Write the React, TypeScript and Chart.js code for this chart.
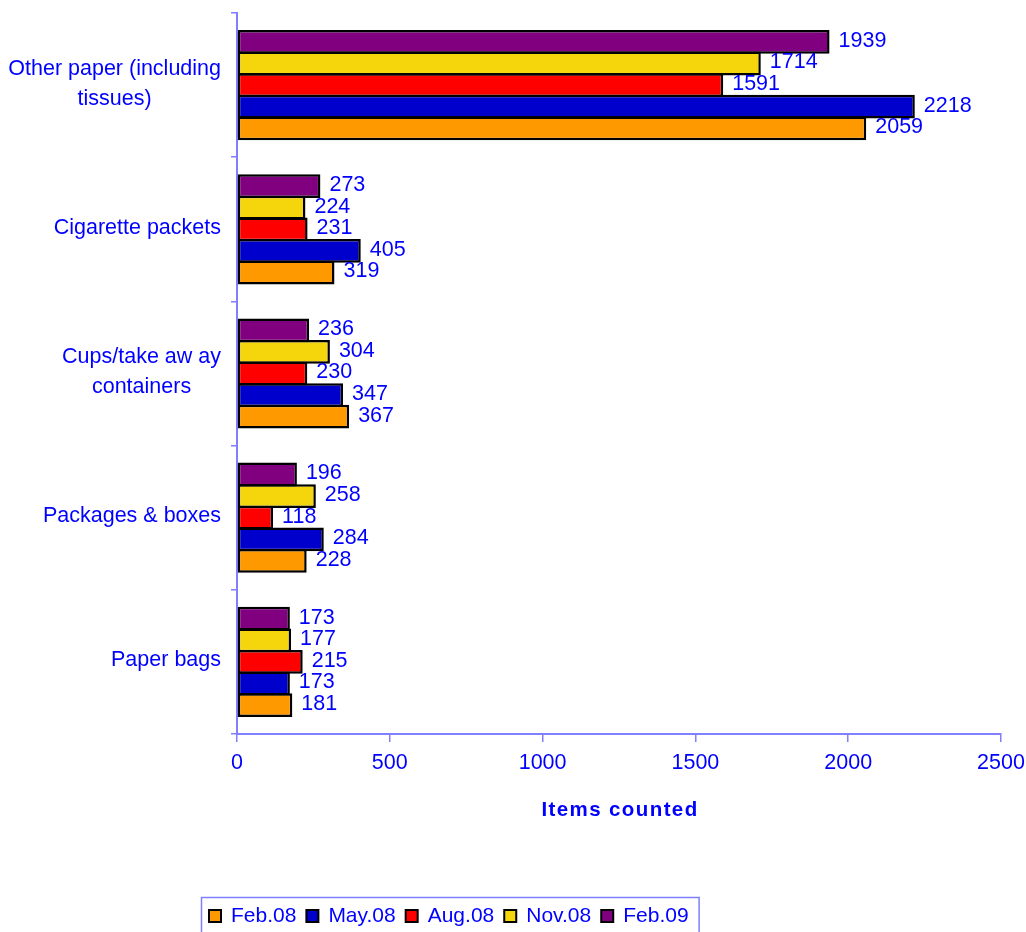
import React, { useEffect, useRef } from "react";
import { Chart, registerables } from "chart.js";

Chart.register(...registerables);

// ---- data ----
const categories: (string | string[])[] = [
  ["Other paper (including", "tissues)"],
  "Cigarette packets",
  ["Cups/take aw ay", "containers"],
  "Packages & boxes",
  "Paper bags",
];
const seriesNames = ["Feb.08", "May.08", "Aug.08", "Nov.08", "Feb.09"];
const feb08 = [2059, 319, 367, 228, 181];
const may08 = [2218, 405, 347, 284, 173];
const aug08 = [1591, 231, 230, 118, 215];
const nov08 = [1714, 224, 304, 258, 177];
const feb09 = [1939, 273, 236, 196, 173];
const xMin = 0;
const xMax = 2500;
const xStep = 500;
const xTitle = "Items counted";

// ---- styles ----
const seriesColors = ["#FF9900", "#0000CC", "#FF0000", "#F5D60D", "#800080"];
const TEXT = "#0000FF";
const AXIS = "#7F7FFF";
const FONT = '"Liberation Sans", Arial, sans-serif';
const FS = 21.5;

const overlayPlugin = {
  id: "overlay",
  afterDraw(chart: any) {
    const ctx: CanvasRenderingContext2D = chart.ctx;
    const area = chart.chartArea;
    ctx.save();
    // value labels
    ctx.font = `${FS}px ${FONT}`;
    ctx.fillStyle = TEXT;
    ctx.textAlign = "left";
    ctx.textBaseline = "middle";
    chart.data.datasets.forEach((ds: any, i: number) => {
      const meta = chart.getDatasetMeta(i);
      meta.data.forEach((el: any, j: number) => {
        ctx.fillText(String(ds.data[j]), el.x + 9, el.y - 1);
      });
    });
    // category labels
    const yScale = chart.scales.y;
    ctx.textAlign = "center";
    categories.forEach((c, idx) => {
      const lines = Array.isArray(c) ? c : [c];
      const widest = Math.max(...lines.map((l) => ctx.measureText(l).width));
      const cx = area.left - 16 - widest / 2;
      const cy = yScale.getPixelForValue(idx) - 1.5;
      lines.forEach((l, k) => {
        ctx.fillText(l, cx, cy + (k - (lines.length - 1) / 2) * 30);
      });
    });
    // axis title
    ctx.font = `bold 20.5px ${FONT}`;
    (ctx as any).letterSpacing = "1.4px";
    ctx.fillText(xTitle, (area.left + area.right) / 2 + 1, 810);
    (ctx as any).letterSpacing = "0px";
    // legend
    ctx.font = `21px ${FONT}`;
    ctx.textAlign = "left";
    const boxLeft = 201;
    const boxTop = 897;
    let x = 209;
    seriesNames.forEach((name, i) => {
      ctx.fillStyle = seriesColors[i];
      ctx.fillRect(x, 910, 12, 12);
      ctx.strokeStyle = "#000000";
      ctx.lineWidth = 2;
      ctx.strokeRect(x, 910, 12, 12);
      ctx.fillStyle = TEXT;
      ctx.fillText(name, x + 22, 916.5);
      x += 22 + ctx.measureText(name).width + 10;
    });
    ctx.strokeStyle = AXIS;
    ctx.lineWidth = 1.5;
    ctx.strokeRect(boxLeft + 0.5, boxTop + 0.5, x - boxLeft, 45);
    ctx.restore();
  },
};

export default function App() {
  const ref = useRef<HTMLCanvasElement | null>(null);
  useEffect(() => {
    document.body.style.margin = "0";
    if (!ref.current) return;
    const order = [4, 3, 2, 1, 0];
    const values = [feb08, may08, aug08, nov08, feb09];
    const chart = new Chart(ref.current, {
      type: "bar",
      data: {
        labels: categories.map((c) => (Array.isArray(c) ? c.join(" ") : c)),
        datasets: order.map((i) => ({
          label: seriesNames[i],
          data: values[i],
          backgroundColor: seriesColors[i],
          borderColor: "#000000",
          borderWidth: 2.5,
          borderSkipped: false,
          categoryPercentage: 0.749,
          barPercentage: 1.1,
        })),
      },
      options: {
        indexAxis: "y",
        animation: false,
        responsive: true,
        maintainAspectRatio: false,
        events: [],
        layout: { padding: { left: 0, top: 13, right: 25, bottom: 0 } },
        plugins: {
          legend: { display: false },
          tooltip: { enabled: false },
        },
        scales: {
          x: {
            min: xMin,
            max: xMax,
            ticks: {
              stepSize: xStep,
              color: TEXT,
              font: { family: FONT, size: FS },
              padding: 8,
              callback: (v: any) => String(v),
            },
            grid: {
              drawOnChartArea: false,
              drawTicks: true,
              tickLength: 8,
              color: AXIS,
              lineWidth: 1.5,
            },
            border: { display: true, color: AXIS, width: 2 },
            afterFit: (s: any) => {
              s.height = 932 - 734;
              s.paddingLeft = 0;
              s.paddingRight = 0;
            },
          },
          y: {
            ticks: { display: false },
            grid: {
              offset: true,
              drawOnChartArea: false,
              drawTicks: true,
              tickLength: 6,
              color: AXIS,
              lineWidth: 1.5,
            },
            border: { display: true, color: AXIS, width: 2 },
            afterFit: (s: any) => {
              s.width = 237;
              s.paddingTop = 0;
              s.paddingBottom = 0;
            },
          },
        },
      },
      plugins: [overlayPlugin],
    } as any);
    return () => chart.destroy();
  }, []);
  return (
    <div style={{ width: 1026, height: 932, position: "relative" }}>
      <canvas ref={ref} />
    </div>
  );
}
